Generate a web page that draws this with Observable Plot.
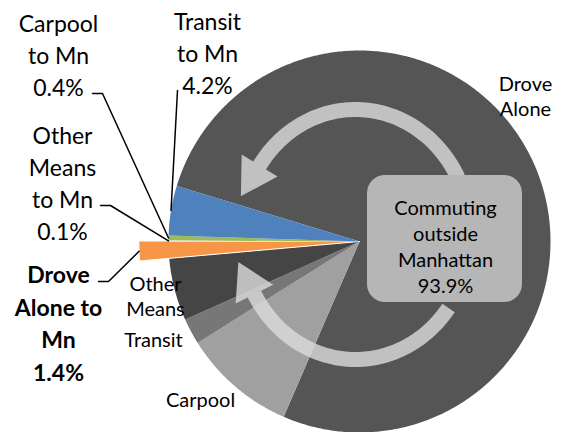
<!DOCTYPE html>
<html>
<head>
<meta charset="utf-8">
<script src="https://cdn.jsdelivr.net/npm/d3@7"></script>
<script src="https://cdn.jsdelivr.net/npm/@observablehq/plot@0.6"></script>
<style>
  html, body { margin: 0; padding: 0; background: #fff; }
  #chart { width: 564px; height: 432px; }
</style>
</head>
<body>
<div id="chart"></div>
<script>
// ---------------- DATA ----------------
const categories = ["Drove Alone", "Carpool", "Transit", "Other Means",
  "Drove Alone to Mn", "Other Means to Mn", "Carpool to Mn", "Transit to Mn"];
const shares = [76.8, 9.6, 2.2, 5.3, 1.4, 0.1, 0.4, 4.2];
const sliceColors = ["#555555", "#a0a0a0", "#777777", "#454545",
  "#f79646", "#ececec", "#9bbb59", "#4f81bd"];
const outsideShare = 93.9;
const centerLines = ["Commuting", "outside", "Manhattan"];
const innerLabels = ["Drove\nAlone", "Carpool", "Transit", "Other\nMeans"];
const mnLabels = ["Drove\nAlone to\nMn", "Other\nMeans\nto Mn", "Carpool\nto Mn", "Transit\nto Mn"];

// ---------------- LAYOUT ----------------
const W = 564, H = 432, CX = 359, CY = 241, R = 191;
const px = (x, y) => [(x - CX) / R, (CY - y) / R];
const startDeg = -73.1;
const explodeR = 1.155;
const font = "Lato, 'Liberation Sans', sans-serif";

const data = categories.map((c, i) => ({category: c, value: shares[i], color: sliceColors[i]}));
const pie = d3.pie().sort(null).value(d => d.value)
  .startAngle(startDeg * Math.PI / 180)
  .endAngle(startDeg * Math.PI / 180 + 2 * Math.PI)(data);

const polar = (a, r) => [r * Math.sin(a), r * Math.cos(a)];

function slicePoints(arc, r) {
  const pts = [[0, 0]];
  const n = Math.max(4, Math.ceil((arc.endAngle - arc.startAngle) / 0.01));
  for (let i = 0; i <= n; i++) {
    const a = arc.startAngle + (arc.endAngle - arc.startAngle) * i / n;
    pts.push(polar(a, r));
  }
  return pts;
}

const sliceMarks = pie.map(arc => {
  const mn = arc.data.category === "Drove Alone to Mn";
  const pts = slicePoints(arc, mn ? explodeR : 1);
  return Plot.line(pts, {x: d => d[0], y: d => d[1], fill: arc.data.color,
    stroke: mn ? "#ffffff" : "none", strokeWidth: mn ? 1 : 0, curve: "linear"});
});

// circular arrows
const ell = {c: px(355, 234), rx: 115 / R, ry: 125 / R, h: 7.5 / R, wing: 21 / R, len: 36 / R};
function arrowPolygon(t0d, tbd, dir) {
  const t0 = t0d * Math.PI / 180, tb = tbd * Math.PI / 180, n = 80;
  const normal = t => { const nx = ell.ry * Math.cos(t), ny = ell.rx * Math.sin(t), l = Math.hypot(nx, ny); return [nx / l, ny / l]; };
  const P = (t, off) => { const [nx, ny] = normal(t); return [ell.c[0] + ell.rx * Math.cos(t) + off * nx, ell.c[1] + ell.ry * Math.sin(t) + off * ny]; };
  const pts = [];
  for (let i = 0; i <= n; i++) pts.push(P(t0 + (tb - t0) * i / n, ell.h));
  const base = P(tb, 0), [nx, ny] = normal(tb);
  let tx = -ell.rx * Math.sin(tb) * dir, ty = ell.ry * Math.cos(tb) * dir;
  const tl = Math.hypot(tx, ty); tx /= tl; ty /= tl;
  pts.push([base[0] + nx * ell.wing, base[1] + ny * ell.wing]);
  pts.push([base[0] + tx * ell.len, base[1] + ty * ell.len]);
  pts.push([base[0] - nx * ell.wing, base[1] - ny * ell.wing]);
  for (let i = n; i >= 0; i--) pts.push(P(t0 + (tb - t0) * i / n, -ell.h));
  return pts;
}
const arrowTop = arrowPolygon(27, 146.5, 1);
const arrowBottom = arrowPolygon(-36, -151.5, -1);

// center box
const b1 = px(367, 175), b2 = px(522, 302);
const box = [{x1: b1[0], y1: b1[1], x2: b2[0], y2: b2[1]}];

// label positions
const byCat = Object.fromEntries(pie.map(a => [a.data.category, a]));
const mid = a => (a.startAngle + a.endAngle) / 2;
const fmt = v => v.toFixed(1) + "%";

const mnText = [
  {cat: "Drove Alone to Mn", text: mnLabels[0] + "\n" + fmt(shares[4]), pos: px(58, 321), bold: true},
  {cat: "Other Means to Mn", text: mnLabels[1] + "\n" + fmt(shares[5]), pos: px(62, 181)},
  {cat: "Carpool to Mn", text: mnLabels[2] + "\n" + fmt(shares[6]), pos: px(58, 53)},
  {cat: "Transit to Mn", text: mnLabels[3] + "\n" + fmt(shares[7]), pos: px(207, 51)}
];
const innerText = [
  {text: innerLabels[0], pos: px(525, 95)},
  {text: innerLabels[1], pos: px(200, 398)},
  {text: innerLabels[2], pos: px(153, 338)},
  {text: innerLabels[3], pos: px(155, 295)}
];
const centerText = [{text: centerLines.join("\n") + "\n" + fmt(outsideShare), pos: px(445, 245)}];

// leader lines: from label elbow to slice outer edge (mid angle)
const leaders = [
  {pts: [px(98, 281), px(108, 281), polar(mid(byCat["Drove Alone to Mn"]), explodeR)]},
  {pts: [px(100, 205), px(110, 205), polar(mid(byCat["Other Means to Mn"]), 1)]},
  {pts: [px(92, 93), px(102, 93), polar(mid(byCat["Carpool to Mn"]), 1)]},
  {pts: [px(177, 90), polar(mid(byCat["Transit to Mn"]), 1)]}
];

const leaderMarks = leaders.map(l => Plot.line(l.pts, {x: d => d[0], y: d => d[1],
  stroke: "#000", strokeWidth: 1.5, curve: "linear"}));

const chart = Plot.plot({
  width: W, height: H,
  marginTop: 0, marginRight: 0, marginBottom: 0, marginLeft: 0,
  x: {domain: [-CX / R, (W - CX) / R], axis: null},
  y: {domain: [(CY - H) / R, CY / R], axis: null},
  style: {background: "#fff", fontFamily: font},
  marks: [
    ...sliceMarks,
    Plot.line(arrowTop, {x: d => d[0], y: d => d[1], fill: "#dcdcdc", fillOpacity: 0.8, stroke: "none", curve: "linear"}),
    Plot.line(arrowBottom, {x: d => d[0], y: d => d[1], fill: "#dcdcdc", fillOpacity: 0.8, stroke: "none", curve: "linear"}),
    Plot.rect(box, {x1: "x1", x2: "x2", y1: "y1", y2: "y2", rx: 18, fill: "#b6b6b6"}),
    ...leaderMarks,
    Plot.text(centerText, {x: d => d.pos[0], y: d => d.pos[1], text: "text", fontSize: 20, lineHeight: 1.3, fill: "#000", fontFamily: font}),
    Plot.text(innerText, {x: d => d.pos[0], y: d => d.pos[1], text: "text", fontSize: 20, lineHeight: 1.25, fill: "#000", fontFamily: font}),
    Plot.text(mnText.filter(d => !d.bold), {x: d => d.pos[0], y: d => d.pos[1], text: "text", fontSize: 23, lineHeight: 1.4, fill: "#000", fontFamily: font}),
    Plot.text(mnText.filter(d => d.bold), {x: d => d.pos[0], y: d => d.pos[1], text: "text", fontSize: 23, lineHeight: 1.43, fontWeight: "bold", fill: "#000", fontFamily: font})
  ]
});
document.getElementById("chart").appendChild(chart);
</script>
</body>
</html>
